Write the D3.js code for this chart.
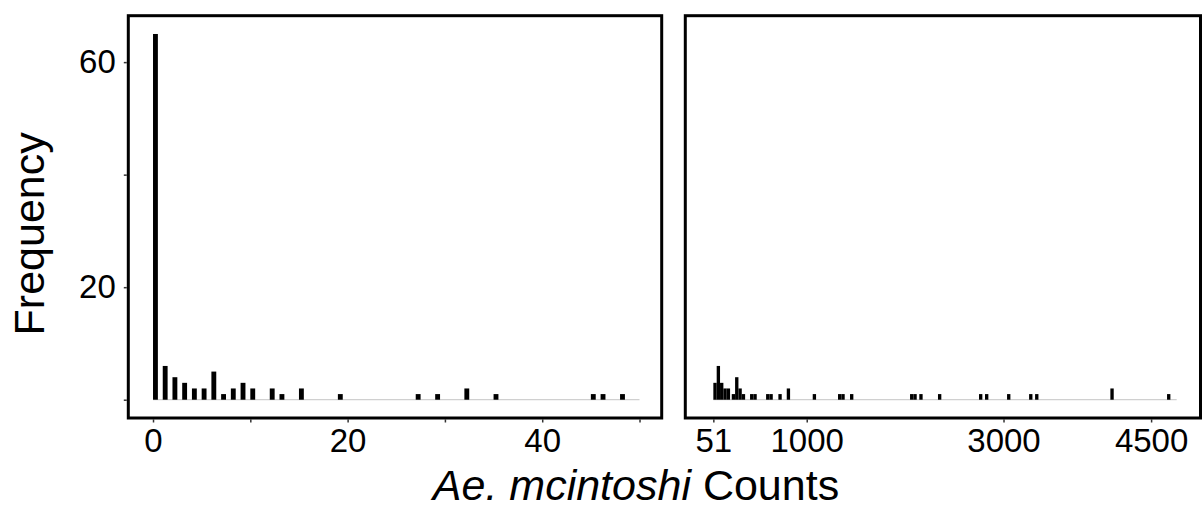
<!DOCTYPE html>
<html>
<head>
<meta charset="utf-8">
<script src="https://cdn.jsdelivr.net/npm/d3@7"></script>
<style>
  body { margin: 0; background: #fff; }
  svg text { font-family: "Liberation Sans", Arial, sans-serif; fill: #000; }
</style>
</head>
<body>
<script>
// counts per value, left panel (0 - 50)
var leftValues = [0, 1, 2, 3, 4, 5, 6, 7, 8, 9, 10, 12, 13, 15, 19, 27, 29, 32, 35, 45, 46, 48];
var leftFreq   = [65, 6, 4, 3, 2, 2, 5, 1, 2, 3, 2, 2, 1, 2, 1, 1, 1, 2, 1, 1, 1, 1];

// right panel (51 and up), bin start values
var rightValues = [51, 85, 119, 153, 187, 238, 272, 306, 340, 424, 458, 587, 621, 712, 797,
                   1061, 1318, 1352, 1440, 2050, 2084, 2144, 2334, 2751, 2812, 3036, 3260, 3321, 4086, 4662];
var rightFreq   = [3, 6, 3, 2, 2, 1, 4, 2, 1, 1, 1, 1, 1, 1, 2,
                   1, 1, 1, 1, 1, 1, 1, 1, 1, 1, 1, 1, 1, 2, 1];

var yTicks = [0, 20, 40, 60];
var yLabels = ["", "20", "", "60"];
var leftTicks = [0, 10, 20, 30, 40, 50];
var leftLabels = ["0", "", "20", "", "40", ""];
var rightTicks = [51, 1000, 3000, 4500];
var rightLabels = ["51", "1000", "3000", "4500"];

var svgWidth = 1202;
var svgHeight = 508;

var svg = d3.select("body")
  .append("svg")
  .attr("width", svgWidth)
  .attr("height", svgHeight);

var plotTop = 15.7, plotBottom = 418;

var y = d3.scaleLinear()
  .domain([-3.25, 68.25])
  .range([plotBottom, plotTop]);

var xLeft = d3.scaleLinear()
  .domain([-2.54, 52.28])
  .range([128.3, 661.7]);

var xRight = d3.scaleLinear()
  .domain([-234, 5002])
  .range([685.3, 1200.5]);

function panel(x, values, freq, width, lineEnd, ticks, labels) {
  var g = svg.append("g");
  var r = x.range();

  // baseline for empty bins
  g.append("line")
    .attr("x1", x(values[0]))
    .attr("x2", x(lineEnd))
    .attr("y1", y(0))
    .attr("y2", y(0))
    .attr("stroke", "#c4c4c4")
    .attr("stroke-width", 1);

  g.selectAll("rect.bar")
    .data(values)
    .enter()
    .append("rect")
    .attr("class", "bar")
    .attr("x", function(d) { return x(d); })
    .attr("width", function(d) { return x(d + width) - x(d); })
    .attr("y", function(d, i) { return y(freq[i]); })
    .attr("height", function(d, i) { return y(0) - y(freq[i]); })
    .attr("fill", "#000");

  // x axis
  var axis = d3.axisBottom(x)
    .tickValues(ticks)
    .tickSize(3)
    .tickPadding(6)
    .tickFormat(function(d, i) { return labels[i]; });
  var ag = g.append("g")
    .attr("transform", "translate(0," + (plotBottom + 1.5) + ")")
    .call(axis);
  ag.select(".domain").remove();
  ag.selectAll(".tick line").attr("stroke", "#333").attr("stroke-width", 1.5);
  ag.selectAll(".tick text").style("font-size", "33px");

  // panel border
  g.append("rect")
    .attr("x", r[0])
    .attr("y", plotTop)
    .attr("width", r[1] - r[0])
    .attr("height", plotBottom - plotTop)
    .attr("fill", "none")
    .attr("stroke", "#000")
    .attr("stroke-width", 3);
}

panel(xLeft, leftValues, leftFreq, 0.5, 50, leftTicks, leftLabels);
panel(xRight, rightValues, rightFreq, 34, 4760, rightTicks, rightLabels);

// y axis
var leftAxis = d3.axisLeft(y)
  .tickValues(yTicks)
  .tickSize(3)
  .tickPadding(8)
  .tickFormat(function(d, i) { return yLabels[i]; });
var yg = svg.append("g")
  .attr("transform", "translate(126.8,0)")
  .call(leftAxis);
yg.select(".domain").remove();
yg.selectAll(".tick line").attr("stroke", "#333").attr("stroke-width", 1.5);
yg.selectAll(".tick text").style("font-size", "33px");

// axis titles
svg.append("text")
  .attr("transform", "translate(44," + ((plotTop + plotBottom) / 2 + 17) + ") rotate(-90)")
  .attr("text-anchor", "middle")
  .style("font-size", "43px")
  .text("Frequency");

var xt = svg.append("text")
  .attr("x", 636)
  .attr("y", 500)
  .attr("text-anchor", "middle")
  .style("font-size", "43px");
xt.append("tspan").style("font-style", "italic").text("Ae. mcintoshi");
xt.append("tspan").text(" Counts");
</script>
</body>
</html>
